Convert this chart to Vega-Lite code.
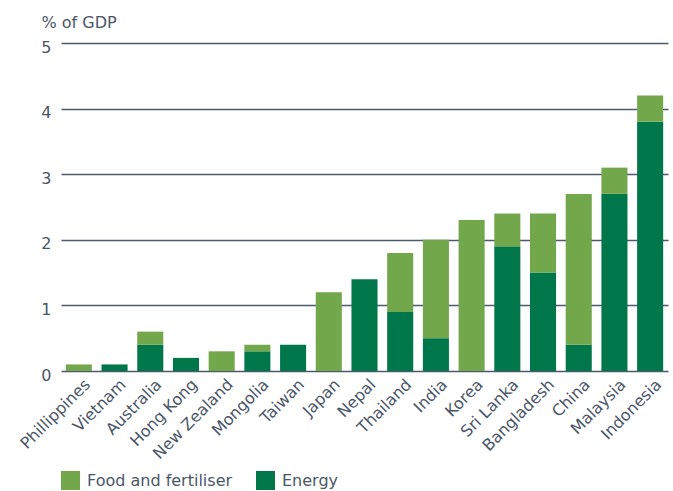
{
  "$schema": "https://vega.github.io/schema/vega-lite/v6.json",
  "width": 607,
  "height": 328,
  "autosize": {"type": "none"},
  "padding": {"left": 61, "top": 43, "right": 5, "bottom": 120},
  "background": "white",
  "config": {
    "view": {"stroke": null},
    "font": "DejaVu Sans",
    "axis": {"labelColor": "#4a5668", "titleColor": "#4a5668", "labelFont": "DejaVu Sans", "titleFont": "DejaVu Sans"},
    "legend": {"labelColor": "#4a5668", "labelFont": "DejaVu Sans"}
  },
  "data": {
    "values": [
      {"country": "Phillippines", "type": "Food and fertiliser", "value": 0.1},
      {"country": "Vietnam", "type": "Energy", "value": 0.1},
      {"country": "Australia", "type": "Energy", "value": 0.4},
      {"country": "Australia", "type": "Food and fertiliser", "value": 0.2},
      {"country": "Hong Kong", "type": "Energy", "value": 0.2},
      {"country": "New Zealand", "type": "Food and fertiliser", "value": 0.3},
      {"country": "Mongolia", "type": "Energy", "value": 0.3},
      {"country": "Mongolia", "type": "Food and fertiliser", "value": 0.1},
      {"country": "Taiwan", "type": "Energy", "value": 0.4},
      {"country": "Japan", "type": "Food and fertiliser", "value": 1.2},
      {"country": "Nepal", "type": "Energy", "value": 1.4},
      {"country": "Thailand", "type": "Energy", "value": 0.9},
      {"country": "Thailand", "type": "Food and fertiliser", "value": 0.9},
      {"country": "India", "type": "Energy", "value": 0.5},
      {"country": "India", "type": "Food and fertiliser", "value": 1.5},
      {"country": "Korea", "type": "Food and fertiliser", "value": 2.3},
      {"country": "Sri Lanka", "type": "Energy", "value": 1.9},
      {"country": "Sri Lanka", "type": "Food and fertiliser", "value": 0.5},
      {"country": "Bangladesh", "type": "Energy", "value": 1.5},
      {"country": "Bangladesh", "type": "Food and fertiliser", "value": 0.9},
      {"country": "China", "type": "Energy", "value": 0.4},
      {"country": "China", "type": "Food and fertiliser", "value": 2.3},
      {"country": "Malaysia", "type": "Energy", "value": 2.7},
      {"country": "Malaysia", "type": "Food and fertiliser", "value": 0.4},
      {"country": "Indonesia", "type": "Energy", "value": 3.8},
      {"country": "Indonesia", "type": "Food and fertiliser", "value": 0.4}
    ]
  },
  "mark": {"type": "bar"},
  "encoding": {
    "x": {
      "field": "country",
      "type": "nominal",
      "sort": ["Phillippines", "Vietnam", "Australia", "Hong Kong", "New Zealand", "Mongolia", "Taiwan", "Japan", "Nepal", "Thailand", "India", "Korea", "Sri Lanka", "Bangladesh", "China", "Malaysia", "Indonesia"],
      "scale": {"paddingInner": 0.27, "paddingOuter": 0.135},
      "axis": {
        "title": null,
        "labelAngle": -45,
        "labelFontSize": 16,
        "labelPadding": 5,
        "labelOffset": 3,
        "ticks": false,
        "domain": false
      }
    },
    "y": {
      "field": "value",
      "type": "quantitative",
      "stack": "zero",
      "scale": {"domain": [0, 5]},
      "axis": {
        "values": [0, 1, 2, 3, 4, 5],
        "title": "% of GDP",
        "titleAngle": 0,
        "titleAlign": "left",
        "titleBaseline": "alphabetic",
        "titleX": -20,
        "titleY": -16,
        "titleFontSize": 16,
        "titleFontWeight": "normal",
        "labelFontSize": 16,
        "labelPadding": 10,
        "labelOffset": 4,
        "grid": true,
        "gridColor": "#4d5a6e",
        "gridWidth": 1.3,
        "ticks": false,
        "domain": false
      }
    },
    "color": {
      "field": "type",
      "type": "nominal",
      "scale": {"domain": ["Food and fertiliser", "Energy"], "range": ["#72a74c", "#00774a"]},
      "legend": {
        "title": null,
        "orient": "none",
        "legendX": 0,
        "legendY": 428,
        "direction": "horizontal",
        "symbolType": "square",
        "symbolSize": 361,
        "symbolStrokeWidth": 0,
        "symbolOpacity": 1,
        "labelFontSize": 16,
        "labelOffset": 7,
        "columnPadding": 23
      }
    },
    "order": {"field": "type", "sort": "ascending"}
  }
}
